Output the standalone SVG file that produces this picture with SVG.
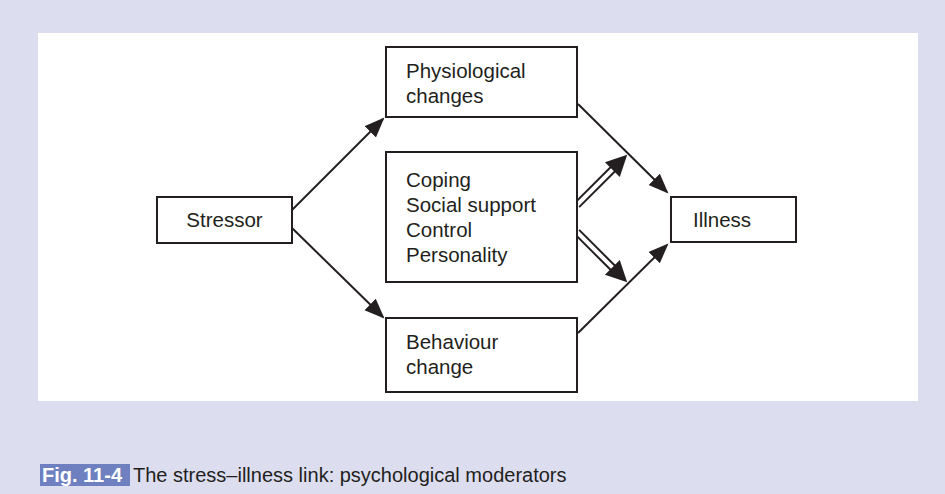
<svg xmlns="http://www.w3.org/2000/svg" width="945" height="494" viewBox="0 0 945 494">
<style>
.box{fill:#ffffff;stroke:#231f20;stroke-width:2}
.t{font-family:"Liberation Sans",Arial,sans-serif;font-size:20.5px;fill:#231f20}
.ln{stroke:#231f20;stroke-width:2;fill:none}
.cap{font-family:"Liberation Sans",Arial,sans-serif;font-size:20px;fill:#231f20}
</style>
<defs>
<marker id="ah" markerUnits="userSpaceOnUse" markerWidth="22" markerHeight="18" refX="18" refY="8" orient="auto">
<path d="M0,0 L20,8 L0,16 z" fill="#231f20"/>
</marker>
</defs>
<rect x="0" y="0" width="945" height="494" fill="#dcdef0"/>
<rect x="38" y="33" width="880" height="368" fill="#ffffff"/>
<g id="connectors">
<line class="ln" x1="292" y1="210" x2="383" y2="119" marker-end="url(#ah)"/>
<line class="ln" x1="292" y1="228" x2="383" y2="317" marker-end="url(#ah)"/>
<line class="ln" x1="578" y1="104" x2="667" y2="192" marker-end="url(#ah)"/>
<line class="ln" x1="578" y1="333" x2="667" y2="245" marker-end="url(#ah)"/>
<g transform="translate(577,205) rotate(-45)">
<line class="ln" x1="0" y1="-3" x2="54" y2="-3"/>
<line class="ln" x1="0" y1="3" x2="54" y2="3"/>
<path d="M71,0 L50,-10.5 L50,10.5 z" fill="#231f20"/>
</g>
<g transform="translate(577,232) rotate(45)">
<line class="ln" x1="0" y1="-3" x2="54" y2="-3"/>
<line class="ln" x1="0" y1="3" x2="54" y2="3"/>
<path d="M71,0 L50,-10.5 L50,10.5 z" fill="#231f20"/>
</g>
</g>
<g id="stressor">
<rect class="box" x="157" y="197" width="135" height="46"/>
<text class="t" x="224.5" y="227" text-anchor="middle">Stressor</text>
</g>
<g id="physiological">
<rect class="box" x="386" y="47" width="191" height="70"/>
<text class="t" x="406" y="78">Physiological</text>
<text class="t" x="406" y="103">changes</text>
</g>
<g id="moderators">
<rect class="box" x="386" y="152" width="191" height="130"/>
<text class="t" x="406" y="187">Coping</text>
<text class="t" x="406" y="212">Social support</text>
<text class="t" x="406" y="237">Control</text>
<text class="t" x="406" y="262">Personality</text>
</g>
<g id="behaviour">
<rect class="box" x="386" y="318" width="191" height="74"/>
<text class="t" x="406" y="349">Behaviour</text>
<text class="t" x="406" y="374">change</text>
</g>
<g id="illness">
<rect class="box" x="671" y="197" width="125" height="45"/>
<text class="t" x="693" y="227">Illness</text>
</g>
<g id="caption">
<rect x="40" y="464" width="90" height="22" fill="#6e80c0"/>
<text class="cap" x="42" y="482" font-weight="bold" style="fill:#ffffff">Fig. 11-4</text>
<text class="cap" x="133" y="482">The stress–illness link: psychological moderators</text>
</g>
</svg>
